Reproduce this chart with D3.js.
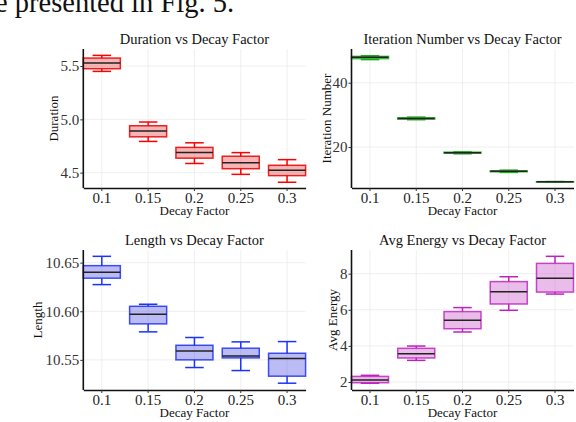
<!DOCTYPE html>
<html>
<head>
<meta charset="utf-8">
<script src="https://cdn.jsdelivr.net/npm/d3@7"></script>
<style>
  body { margin: 0; background: #fff; }
  svg, svg text { font-family: "Liberation Serif", "Times New Roman", serif; }
  svg { display: block; }
</style>
</head>
<body>
<svg id="chart" width="576" height="422"></svg>
<script>
// categories on the x axis
var decayFactors = ["0.1", "0.15", "0.2", "0.25", "0.3"];

// box stats per decay factor: [lower whisker, q1, median, q3, upper whisker]
var durationStats = [
    [5.45, 5.475, 5.528, 5.575, 5.60],
    [4.793, 4.836, 4.89, 4.94, 4.975],
    [4.586, 4.636, 4.69, 4.737, 4.78],
    [4.484, 4.537, 4.594, 4.654, 4.688],
    [4.41, 4.472, 4.522, 4.569, 4.622]
];
var iterationStats = [
    [47.2, 47.5, 47.9, 48.2, 48.4],
    [28.5, 28.7, 28.9, 29.1, 29.3],
    [17.9, 18.1, 18.25, 18.4, 18.5],
    [12.1, 12.3, 12.45, 12.6, 12.8],
    [9.15, 9.18, 9.2, 9.22, 9.25]
];
var lengthStats = [
    [10.6274, 10.634, 10.640, 10.6469, 10.6565],
    [10.5788, 10.587, 10.5969, 10.6051, 10.6072],
    [10.5421, 10.550, 10.5592, 10.565, 10.573],
    [10.539, 10.552, 10.5541, 10.562, 10.5685],
    [10.526, 10.5332, 10.5514, 10.5568, 10.5688]
];
var energyStats = [
    [1.93, 1.96, 2.11, 2.31, 2.37],
    [3.2, 3.33, 3.57, 3.865, 3.99],
    [4.77, 4.95, 5.42, 5.9, 6.12],
    [5.97, 6.32, 7.0, 7.56, 7.83],
    [6.87, 6.98, 7.74, 8.57, 8.96]
];

// y tick values
var durationTicks = [4.5, 5.0, 5.5];
var iterationTicks = [20, 40];
var lengthTicks = [10.55, 10.60, 10.65];
var energyTicks = [2, 4, 6, 8];

var serif = "'Liberation Serif', 'Times New Roman', serif";
var svg = d3.select("#chart");

// intro text line cut off at the top of the picture
svg.append("text")
    .attr("x", -5)
    .attr("y", 12)
    .style("font-family", serif)
    .style("font-size", "28.5px")
    .attr("fill", "#111")
    .text("e presented in Fig. 5.");

function drawPanel(opt) {
    var x = d3.scaleBand()
        .domain(decayFactors)
        .range([opt.left, opt.right])
        .paddingInner(0.2)
        .paddingOuter(0);
    var y = d3.scaleLinear()
        .domain(opt.domain)
        .range([opt.bottom, opt.top]);

    var g = svg.append("g");

    // grid
    g.selectAll(".hgrid")
        .data(opt.ticks)
        .enter().append("line")
        .attr("x1", opt.left).attr("x2", opt.right)
        .attr("y1", function (d) { return y(d); })
        .attr("y2", function (d) { return y(d); })
        .attr("stroke", "#ebebeb")
        .attr("stroke-width", 0.8);
    g.selectAll(".vgrid")
        .data(decayFactors)
        .enter().append("line")
        .attr("x1", function (d) { return x(d) + x.bandwidth() / 2; })
        .attr("x2", function (d) { return x(d) + x.bandwidth() / 2; })
        .attr("y1", opt.top).attr("y2", opt.bottom)
        .attr("stroke", "#ebebeb")
        .attr("stroke-width", 0.8);

    var bw = x.bandwidth();
    var boxes = g.selectAll(".box")
        .data(opt.stats)
        .enter().append("g")
        .attr("transform", function (d, i) { return "translate(" + x(decayFactors[i]) + ",0)"; });

    // whiskers
    boxes.append("line")
        .attr("x1", bw / 2).attr("x2", bw / 2)
        .attr("y1", function (d) { return y(d[0]); })
        .attr("y2", function (d) { return y(d[1]); })
        .attr("stroke", opt.whisker).attr("stroke-width", 1.5);
    boxes.append("line")
        .attr("x1", bw / 2).attr("x2", bw / 2)
        .attr("y1", function (d) { return y(d[3]); })
        .attr("y2", function (d) { return y(d[4]); })
        .attr("stroke", opt.whisker).attr("stroke-width", 1.5);
    // caps
    [0, 4].forEach(function (k) {
        boxes.append("line")
            .attr("x1", bw / 4).attr("x2", bw * 3 / 4)
            .attr("y1", function (d) { return y(d[k]); })
            .attr("y2", function (d) { return y(d[k]); })
            .attr("stroke", opt.whisker).attr("stroke-width", 1.5);
    });
    // box
    boxes.append("rect")
        .attr("x", 0)
        .attr("width", bw)
        .attr("y", function (d) { return y(d[3]); })
        .attr("height", function (d) { return Math.max(0.5, y(d[1]) - y(d[3])); })
        .attr("fill", opt.fill)
        .attr("stroke", opt.stroke)
        .attr("stroke-width", 1.5);
    // median
    boxes.append("line")
        .attr("x1", 0).attr("x2", bw)
        .attr("y1", function (d) { return y(d[2]); })
        .attr("y2", function (d) { return y(d[2]); })
        .attr("stroke", "#222")
        .attr("stroke-width", 1.5);

    // axes
    var xAxis = d3.axisBottom(x).tickSize(3).tickSizeOuter(0);
    var gx = g.append("g")
        .attr("transform", "translate(0," + opt.bottom + ")")
        .call(xAxis)
        .attr("font-family", null)
        .attr("font-size", null);
    gx.select(".domain").attr("stroke", "#111").attr("stroke-width", 1.6);
    gx.selectAll(".tick line").attr("stroke", "#333");
    gx.selectAll(".tick text")
        .style("font-family", serif)
        .style("font-size", "15px")
        .attr("fill", "#222")
        .attr("dy", null)
        .attr("y", 15);

    var yAxis = d3.axisLeft(y).tickValues(opt.ticks).tickFormat(d3.format(opt.format))
        .tickSize(3).tickSizeOuter(0);
    var gy = g.append("g")
        .attr("transform", "translate(" + opt.left + ",0)")
        .call(yAxis)
        .attr("font-family", null)
        .attr("font-size", null);
    gy.select(".domain").attr("stroke", "#111").attr("stroke-width", 1.6)
        .attr("d", "M0," + opt.top + "V" + opt.bottom);
    gy.selectAll(".tick line").attr("stroke", "#333");
    gy.selectAll(".tick text")
        .style("font-family", serif)
        .style("font-size", "15px")
        .attr("fill", "#333")
        .attr("x", -4);

    // titles
    g.append("text")
        .attr("x", (opt.left + opt.right) / 2)
        .attr("y", opt.top - 5)
        .attr("text-anchor", "middle")
        .style("font-family", serif)
        .style("font-size", "14.5px")
        .attr("fill", "#111")
        .text(opt.title);
    g.append("text")
        .attr("x", (opt.left + opt.right) / 2)
        .attr("y", opt.bottom + 27)
        .attr("text-anchor", "middle")
        .style("font-family", serif)
        .style("font-size", "13px")
        .attr("fill", "#111")
        .text("Decay Factor");
    g.append("text")
        .attr("transform", "translate(" + opt.yLabelX + "," + (opt.top + opt.bottom) / 2 + ") rotate(-90)")
        .attr("text-anchor", "middle")
        .style("font-family", serif)
        .style("font-size", "13px")
        .attr("fill", "#111")
        .text(opt.yLabel);
}

drawPanel({
    left: 83.3, right: 305.6, top: 49, bottom: 188,
    domain: [4.356, 5.66], ticks: durationTicks, format: ".1f",
    stats: durationStats, title: "Duration vs Decay Factor", yLabel: "Duration", yLabelX: 57.5,
    fill: "rgba(240,60,60,0.38)", stroke: "rgba(230,0,0,0.85)", whisker: "#f00"
});
drawPanel({
    left: 351.5, right: 573.5, top: 49, bottom: 188,
    domain: [7.25, 50.5], ticks: iterationTicks, format: "d",
    stats: iterationStats, title: "Iteration Number vs Decay Factor", yLabel: "Iteration Number", yLabelX: 331,
    fill: "rgba(60,200,60,0.45)", stroke: "rgba(30,170,30,0.85)", whisker: "#22aa22"
});
drawPanel({
    left: 83.3, right: 305.6, top: 250, bottom: 390,
    domain: [10.519, 10.663], ticks: lengthTicks, format: ".2f",
    stats: lengthStats, title: "Length vs Decay Factor", yLabel: "Length", yLabelX: 42,
    fill: "rgba(60,60,230,0.35)", stroke: "rgba(20,40,240,0.8)", whisker: "#1a33ff"
});
drawPanel({
    left: 351.5, right: 573.5, top: 250, bottom: 390,
    domain: [1.557, 9.31], ticks: energyTicks, format: "d",
    stats: energyStats, title: "Avg Energy vs Decay Factor", yLabel: "Avg Energy", yLabelX: 337,
    fill: "rgba(200,80,200,0.38)", stroke: "rgba(190,40,190,0.85)", whisker: "#c020c0"
});
</script>
</body>
</html>
